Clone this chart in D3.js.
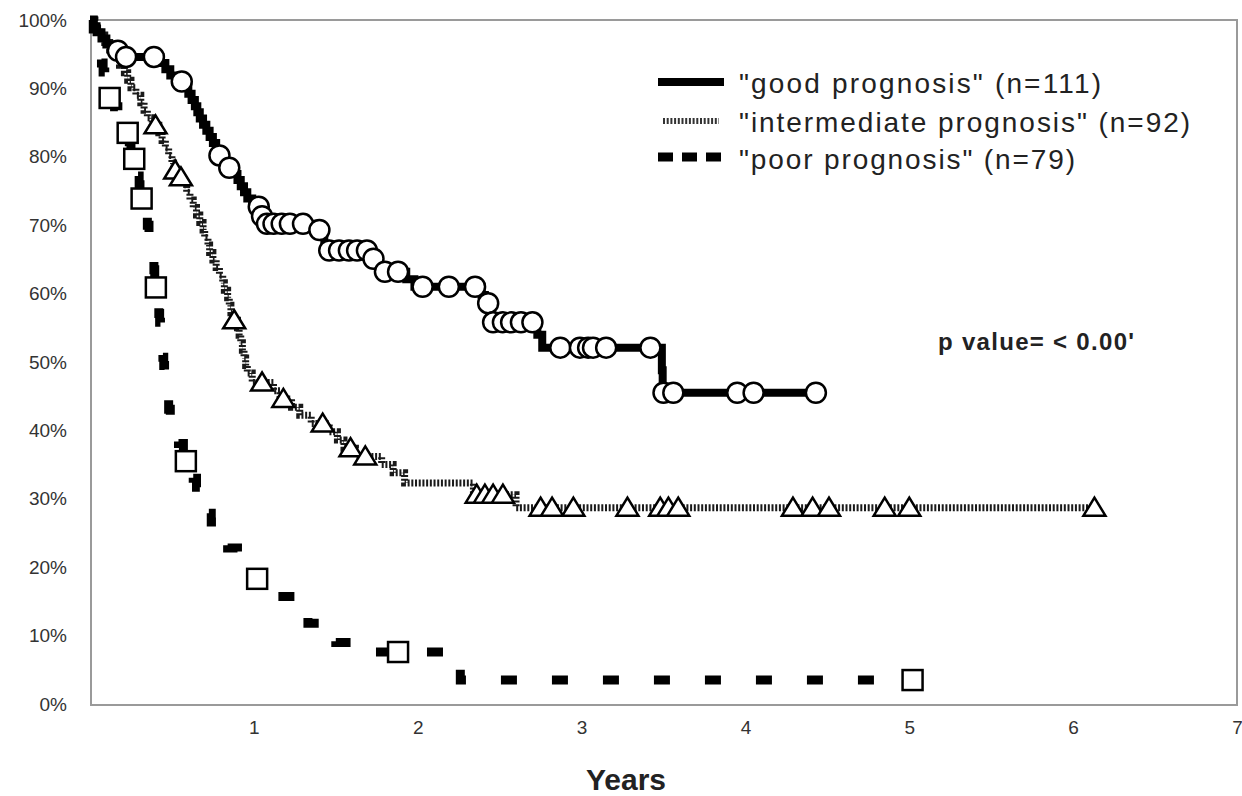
<!DOCTYPE html>
<html>
<head>
<meta charset="utf-8">
<script src="https://cdn.jsdelivr.net/npm/d3@7"></script>
<style>
  html, body { margin: 0; padding: 0; background: #fff; }
  svg { display: block; font-family: "Liberation Sans", Arial, sans-serif; }
</style>
</head>
<body>
<svg id="chart" width="1242" height="796"></svg>
<script>
// ---------- DATA ----------
const xTickValues = [1, 2, 3, 4, 5, 6, 7];
const yTickValues = [0, 10, 20, 30, 40, 50, 60, 70, 80, 90, 100];

const seriesNames = ['"good prognosis" (n=111)', '"intermediate prognosis" (n=92)', '"poor prognosis" (n=79)'];
const pValueText = "p value= < 0.00'";
const xAxisTitle = "Years";

// Kaplan-Meier steps: [years, survival % after the step]
const goodSteps = [
  [0,100],[0.02,99.1],[0.04,98.2],[0.07,97.3],[0.10,96.4],[0.14,95.5],[0.19,94.6],
  [0.43,93.7],[0.46,92.8],[0.49,91.9],[0.52,91.0],
  [0.58,90.1],[0.60,89.2],[0.62,88.3],[0.64,87.4],[0.655,86.5],[0.67,85.6],[0.69,84.7],
  [0.71,83.8],[0.73,82.9],[0.75,82.0],[0.77,81.1],[0.78,80.2],[0.83,79.3],[0.845,78.4],
  [0.88,77.5],[0.90,76.6],[0.92,75.7],[0.94,74.8],[0.96,73.9],[0.99,73.0],[1.00,72.7],
  [1.045,71.3],[1.065,70.2],[1.38,69.3],[1.42,68.3],[1.43,67.3],[1.44,66.3],
  [1.71,65.1],[1.77,64.0],[1.79,63.2],[1.93,62.1],[1.98,61.0],
  [2.39,59.8],[2.41,58.6],[2.44,57.2],[2.45,55.8],[2.73,54.0],[2.76,52.1],
  [3.49,48.8],[3.495,45.5]
];
const goodCensored = [
  [0.17,95.5],[0.22,94.6],[0.39,94.6],[0.56,91.0],[0.79,80.2],[0.85,78.4],
  [1.03,72.7],[1.05,71.3],[1.08,70.2],[1.12,70.2],[1.17,70.2],[1.22,70.2],[1.30,70.2],
  [1.40,69.3],[1.46,66.3],[1.52,66.3],[1.58,66.3],[1.63,66.3],[1.69,66.3],
  [1.73,65.1],[1.80,63.2],[1.88,63.2],[2.03,61.0],[2.19,61.0],[2.35,61.0],
  [2.43,58.6],[2.46,55.8],[2.52,55.8],[2.57,55.8],[2.63,55.8],[2.70,55.8],
  [2.87,52.1],[2.99,52.1],[3.04,52.1],[3.07,52.1],[3.15,52.1],[3.42,52.1],
  [3.50,45.5],[3.56,45.5],[3.95,45.5],[4.05,45.5],[4.43,45.5]
];

const intermediateSteps = [
  [0,100],[0.03,98.9],[0.06,97.8],[0.09,96.7],[0.12,95.6],[0.15,94.5],[0.18,93.4],[0.21,92.3],
  [0.23,91.2],[0.25,90.1],[0.28,89.0],[0.31,87.9],[0.33,86.8],[0.35,85.7],[0.38,84.6],
  [0.42,83.5],[0.44,82.4],[0.46,81.3],[0.48,80.2],[0.50,79.1],[0.51,78.0],[0.53,77.0],
  [0.57,75.9],[0.59,74.8],[0.61,73.7],[0.63,72.6],[0.65,71.5],[0.67,70.4],[0.69,69.3],
  [0.70,68.2],[0.72,67.1],[0.73,66.0],[0.75,64.9],[0.77,63.8],[0.79,62.7],[0.81,61.6],
  [0.82,60.5],[0.84,59.4],[0.85,58.3],[0.86,57.2],[0.87,56.1],[0.90,55.0],[0.91,53.9],
  [0.92,52.8],[0.93,51.7],[0.94,50.6],[0.95,49.5],[0.96,48.4],[0.99,47.0],
  [1.12,45.8],[1.16,44.6],[1.23,43.4],[1.28,42.2],[1.35,41.0],[1.46,39.8],[1.51,38.6],
  [1.55,37.4],[1.62,36.2],[1.78,35.0],[1.85,33.8],[1.92,32.3],[2.34,30.6],[2.60,28.7]
];
const intermediateCensored = [
  [0.40,84.6],[0.52,78.0],[0.555,77.0],[0.88,56.1],[1.05,47.0],[1.18,44.6],[1.42,41.0],
  [1.59,37.4],[1.68,36.2],[2.36,30.6],[2.41,30.6],[2.46,30.6],[2.52,30.6],
  [2.75,28.7],[2.82,28.7],[2.95,28.7],[3.28,28.7],[3.48,28.7],[3.53,28.7],[3.59,28.7],
  [4.29,28.7],[4.41,28.7],[4.51,28.7],[4.85,28.7],[5.00,28.7],[6.13,28.7]
];

const poorSteps = [
  [0,100],[0.02,98.7],[0.04,97.5],[0.05,96.2],[0.06,94.9],[0.07,93.7],[0.08,92.4],[0.09,91.1],
  [0.10,89.9],[0.11,88.6],[0.15,87.3],[0.17,86.1],[0.19,84.8],[0.21,83.5],[0.24,82.2],
  [0.25,81.0],[0.26,79.7],[0.28,78.4],[0.29,77.2],[0.30,75.9],[0.305,74.6],[0.31,73.9],
  [0.33,72.6],[0.34,71.3],[0.35,70.0],[0.36,68.7],[0.37,67.4],[0.38,66.1],[0.385,64.8],
  [0.39,63.5],[0.395,62.2],[0.40,60.9],[0.41,59.6],[0.415,58.4],[0.42,57.1],[0.425,55.8],
  [0.43,54.5],[0.435,53.3],[0.44,52.0],[0.445,50.7],[0.45,49.5],[0.455,48.2],[0.46,46.9],
  [0.465,45.7],[0.47,44.4],[0.48,43.1],[0.49,41.9],[0.50,40.6],[0.52,39.3],[0.54,38.1],
  [0.57,36.8],[0.58,35.5],[0.61,34.2],[0.63,33.0],[0.65,31.7],[0.68,30.4],[0.70,29.2],
  [0.72,27.9],[0.74,26.6],[0.77,25.4],[0.80,24.1],[0.84,22.8],[0.90,21.6],[0.95,20.3],
  [0.98,19.0],[1.00,18.3],[1.08,17.0],[1.14,15.7],[1.22,14.4],[1.28,13.1],[1.33,11.8],
  [1.40,10.6],[1.47,9.3],[1.50,9.0],[1.72,7.6],[2.26,3.5]
];
const poorCensored = [
  [0.12,88.6],[0.23,83.5],[0.27,79.7],[0.315,73.9],[0.402,60.9],[0.585,35.5],
  [1.02,18.3],[1.88,7.6],[5.02,3.5]
];

// ---------- CHART ----------
const svg = d3.select("#chart");
const W = 1242, H = 796;
svg.append("rect").attr("width", W).attr("height", H).attr("fill", "#fff");

const plot = { left: 91, right: 1237, top: 20, bottom: 705 };
const x = d3.scaleLinear().domain([0, 7]).range([90, 1237]);
const y = d3.scaleLinear().domain([0, 100]).range([704, 20]);

// frame
svg.append("rect")
  .attr("x", plot.left).attr("y", plot.top)
  .attr("width", plot.right - plot.left).attr("height", plot.bottom - plot.top)
  .attr("fill", "none").attr("stroke", "#9a9a9a").attr("stroke-width", 2);

// axes
const yAxis = d3.axisLeft(y).tickValues(yTickValues).tickSize(0).tickPadding(24)
  .tickFormat(d => d + "%");
const gy = svg.append("g").attr("transform", `translate(${plot.left},0)`).call(yAxis);
gy.select(".domain").remove();
gy.selectAll("text").attr("font-size", 19).attr("fill", "#333")
  .attr("font-family", '"Liberation Sans", Arial, sans-serif');

const xAxis = d3.axisBottom(x).tickValues(xTickValues).tickSize(0).tickPadding(16)
  .tickFormat(d3.format("d"));
const gx = svg.append("g").attr("transform", `translate(0,${plot.bottom})`).call(xAxis);
gx.select(".domain").remove();
gx.selectAll("text").attr("font-size", 19).attr("fill", "#333")
  .attr("font-family", '"Liberation Sans", Arial, sans-serif');

svg.append("text").attr("x", 626).attr("y", 790).attr("text-anchor", "middle")
  .attr("font-size", 30).attr("font-weight", "bold").attr("fill", "#222")
  .text(xAxisTitle);

// lines
const stepLine = d3.line().x(d => x(d[0])).y(d => y(d[1])).curve(d3.curveStepAfter);
function extend(steps, cens) {
  const endT = d3.max(cens, d => d[0]);
  return steps.concat([[endT, steps[steps.length - 1][1]]]);
}

const gLines = svg.append("g");
gLines.append("path").datum(extend(intermediateSteps, intermediateCensored))
  .attr("d", stepLine).attr("fill", "none").attr("stroke", "#1a1a1a")
  .attr("stroke-width", 7).attr("stroke-dasharray", "2,1.7");
gLines.append("path").datum(extend(poorSteps, poorCensored))
  .attr("d", stepLine).attr("fill", "none").attr("stroke", "#000")
  .attr("stroke-width", 9).attr("stroke-dasharray", "16,35");
gLines.append("path").datum(extend(goodSteps, goodCensored))
  .attr("d", stepLine).attr("fill", "none").attr("stroke", "#000")
  .attr("stroke-width", 8).attr("stroke-linejoin", "miter");

// markers
const gM = svg.append("g");
gM.selectAll("path.tri").data(intermediateCensored).join("path").attr("class", "tri")
  .attr("d", "M0,-10L11,8L-11,8Z")
  .attr("transform", d => `translate(${x(d[0])},${y(d[1])})`)
  .attr("fill", "#fff").attr("stroke", "#000").attr("stroke-width", 2.5)
  .attr("stroke-linejoin", "miter");
gM.selectAll("rect.sq").data(poorCensored).join("rect").attr("class", "sq")
  .attr("x", d => x(d[0]) - 10).attr("y", d => y(d[1]) - 10)
  .attr("width", 20).attr("height", 20)
  .attr("fill", "#fff").attr("stroke", "#000").attr("stroke-width", 2.5);
gM.selectAll("circle.ci").data(goodCensored).join("circle").attr("class", "ci")
  .attr("cx", d => x(d[0])).attr("cy", d => y(d[1])).attr("r", 10)
  .attr("fill", "#fff").attr("stroke", "#000").attr("stroke-width", 2.5);

// legend
const legend = svg.append("g");
const legendRows = [
  { name: seriesNames[0], ly: 82, ty: 93, x1: 658, x2: 724, w: 8, dash: null, color: "#000", len: 362 },
  { name: seriesNames[1], ly: 121, ty: 132, x1: 663, x2: 719, w: 6, dash: "2,1.7", color: "#333", len: 451 },
  { name: seriesNames[2], ly: 157, ty: 169, x1: 658, x2: 724, w: 9, dash: "15,9", color: "#000", len: 336 }
];
legendRows.forEach(r => {
  const l = legend.append("line").attr("x1", r.x1).attr("x2", r.x2)
    .attr("y1", r.ly).attr("y2", r.ly).attr("stroke", r.color).attr("stroke-width", r.w);
  if (r.dash) l.attr("stroke-dasharray", r.dash);
  legend.append("text").attr("x", 739).attr("y", r.ty)
    .attr("font-size", 28).attr("fill", "#222")
    .attr("textLength", r.len).attr("lengthAdjust", "spacing")
    .text(r.name);
});

svg.append("text").attr("x", 938).attr("y", 350)
  .attr("font-size", 24).attr("font-weight", "bold").attr("fill", "#222")
  .attr("textLength", 196).attr("lengthAdjust", "spacing")
  .text(pValueText);
</script>
</body>
</html>
